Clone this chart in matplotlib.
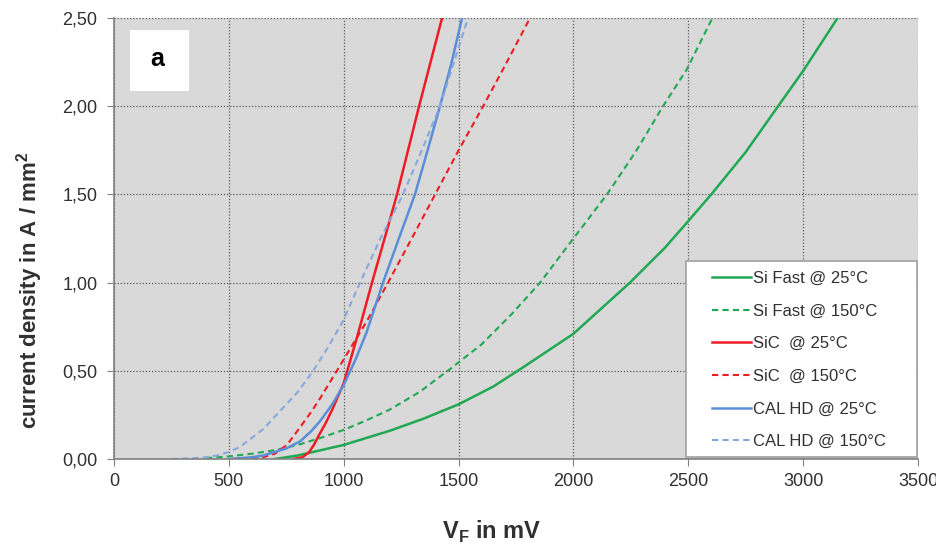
import matplotlib.pyplot as plt
from matplotlib.patches import Rectangle

plt.rcParams['font.family'] = ['Liberation Sans', 'DejaVu Sans']

# Werte (V_F in mV, Stromdichte in A/mm²)
si25_x = [700, 800, 900, 1000, 1100, 1200, 1350, 1500, 1650, 1781, 2000, 2246, 2400, 2494, 2600, 2750, 2891, 3000, 3150]
si25_y = [0.0, 0.02, 0.05, 0.08, 0.12, 0.16, 0.23, 0.31, 0.41, 0.52, 0.71, 1.00, 1.20, 1.34, 1.50, 1.74, 2.00, 2.20, 2.50]

si150_x = [400, 500, 600, 700, 800, 900, 1000, 1100, 1200, 1330, 1463, 1600, 1730, 1855, 1994, 2146, 2270, 2390, 2494, 2605]
si150_y = [0.005, 0.015, 0.03, 0.05, 0.08, 0.12, 0.165, 0.22, 0.28, 0.38, 0.51, 0.65, 0.82, 1.00, 1.24, 1.50, 1.74, 2.00, 2.21, 2.50]

sic25_x = [780, 820, 850, 870, 890, 920, 950, 1000, 1060, 1123, 1180, 1232, 1280, 1328, 1380, 1428]
sic25_y = [0.0, 0.01, 0.04, 0.08, 0.13, 0.20, 0.28, 0.43, 0.70, 1.00, 1.26, 1.50, 1.75, 2.00, 2.26, 2.50]

sic150_x = [600, 650, 700, 753, 810, 860, 900, 970, 1030, 1100, 1193, 1300, 1398, 1500, 1607, 1710, 1811]
sic150_y = [0.0, 0.01, 0.03, 0.08, 0.18, 0.27, 0.35, 0.50, 0.63, 0.78, 1.00, 1.26, 1.50, 1.75, 2.00, 2.25, 2.50]

cal25_x = [500, 600, 650, 700, 750, 810, 860, 900, 950, 1000, 1050, 1100, 1171, 1240, 1310, 1365, 1419, 1470, 1515]
cal25_y = [0.0, 0.01, 0.02, 0.04, 0.06, 0.10, 0.16, 0.22, 0.31, 0.42, 0.56, 0.72, 1.00, 1.25, 1.50, 1.75, 2.00, 2.25, 2.50]

cal150_x = [250, 350, 400, 450, 500, 550, 600, 650, 700, 750, 800, 867, 930, 1000, 1071, 1160, 1258, 1340, 1419, 1480, 1541]
cal150_y = [0.0, 0.005, 0.01, 0.02, 0.04, 0.07, 0.12, 0.17, 0.24, 0.31, 0.38, 0.50, 0.63, 0.79, 1.00, 1.25, 1.50, 1.75, 2.00, 2.25, 2.50]

x_ticks = [0, 500, 1000, 1500, 2000, 2500, 3000, 3500]
y_ticks = [0.0, 0.5, 1.0, 1.5, 2.0, 2.5]

green = '#21a852'
red = '#ee1c25'
blue = '#5b8ed8'
blue_light = '#86a8dc'
txt = '#303030'

fig = plt.figure(figsize=(9.37, 5.46), dpi=100)
ax = fig.add_axes([0.1217, 0.1593, 0.858, 0.8077])
ax.set_facecolor('#d9d9d9')

ax.plot(si25_x, si25_y, color=green, lw=1.8, label='Si Fast @ 25°C')
ax.plot(si150_x, si150_y, color=green, lw=1.5, ls=(0, (3, 2)), label='Si Fast @ 150°C')
ax.plot(sic25_x, sic25_y, color=red, lw=1.8, label='SiC  @ 25°C')
ax.plot(sic150_x, sic150_y, color=red, lw=1.5, ls=(0, (3, 2)), label='SiC  @ 150°C')
ax.plot(cal25_x, cal25_y, color=blue, lw=1.8, label='CAL HD @ 25°C')
ax.plot(cal150_x, cal150_y, color=blue_light, lw=1.5, ls=(0, (3, 2)), label='CAL HD @ 150°C')

ax.set_xlim(0, 3500)
ax.set_ylim(0, 2.5)
ax.set_xticks(x_ticks)
ax.set_yticks(y_ticks)
ax.set_yticklabels([f'{v:.2f}'.replace('.', ',') for v in y_ticks])
ax.tick_params(labelsize=13, labelcolor=txt, color='#808080', length=5, direction='out')
ax.tick_params(axis='y', pad=7)
ax.tick_params(axis='x', pad=5)
ax.grid(True, color='#5a5a5a', ls=(0, (1, 1.5)), lw=0.9)

for s in ['top', 'right']:
    ax.spines[s].set_visible(False)
for s in ['left', 'bottom']:
    ax.spines[s].set_color('#808080')
    ax.spines[s].set_linewidth(1.2)

ax.set_ylabel('current density in A / mm$^\\mathregular{2}$', fontsize=16, fontweight='bold', color=txt)
ax.yaxis.set_label_coords(-0.086, 0.383)
ax.set_xlabel('V$_\\mathregular{F}$ in mV', fontsize=17, fontweight='bold', color=txt)
ax.xaxis.set_label_coords(0.47, -0.135)

# Kennzeichnung "a"
ax.add_patch(Rectangle((0.0199, 0.834), 0.0734, 0.139, transform=ax.transAxes,
                       fc='white', ec='none', zorder=3))
ax.text(0.0535, 0.907, 'a', transform=ax.transAxes, fontsize=18, fontweight='bold',
        ha='center', va='center', zorder=4)

# Legendenrahmen separat, damit der Innenabstand wie im Original ist
ax.add_patch(Rectangle((0.7114, 0.0045), 0.2873, 0.4445, transform=ax.transAxes,
                       fc='white', ec='#a0a0a0', lw=1.2, zorder=5))
leg = ax.legend(loc='upper left', bbox_to_anchor=(0.744, 0.427), fontsize=12,
                frameon=False, handlelength=2.35, handletextpad=0.1,
                labelspacing=1.06, borderpad=0, borderaxespad=0)
leg.set_zorder(6)
for t in leg.get_texts():
    t.set_color(txt)

fig.savefig('out.png', dpi=100)
